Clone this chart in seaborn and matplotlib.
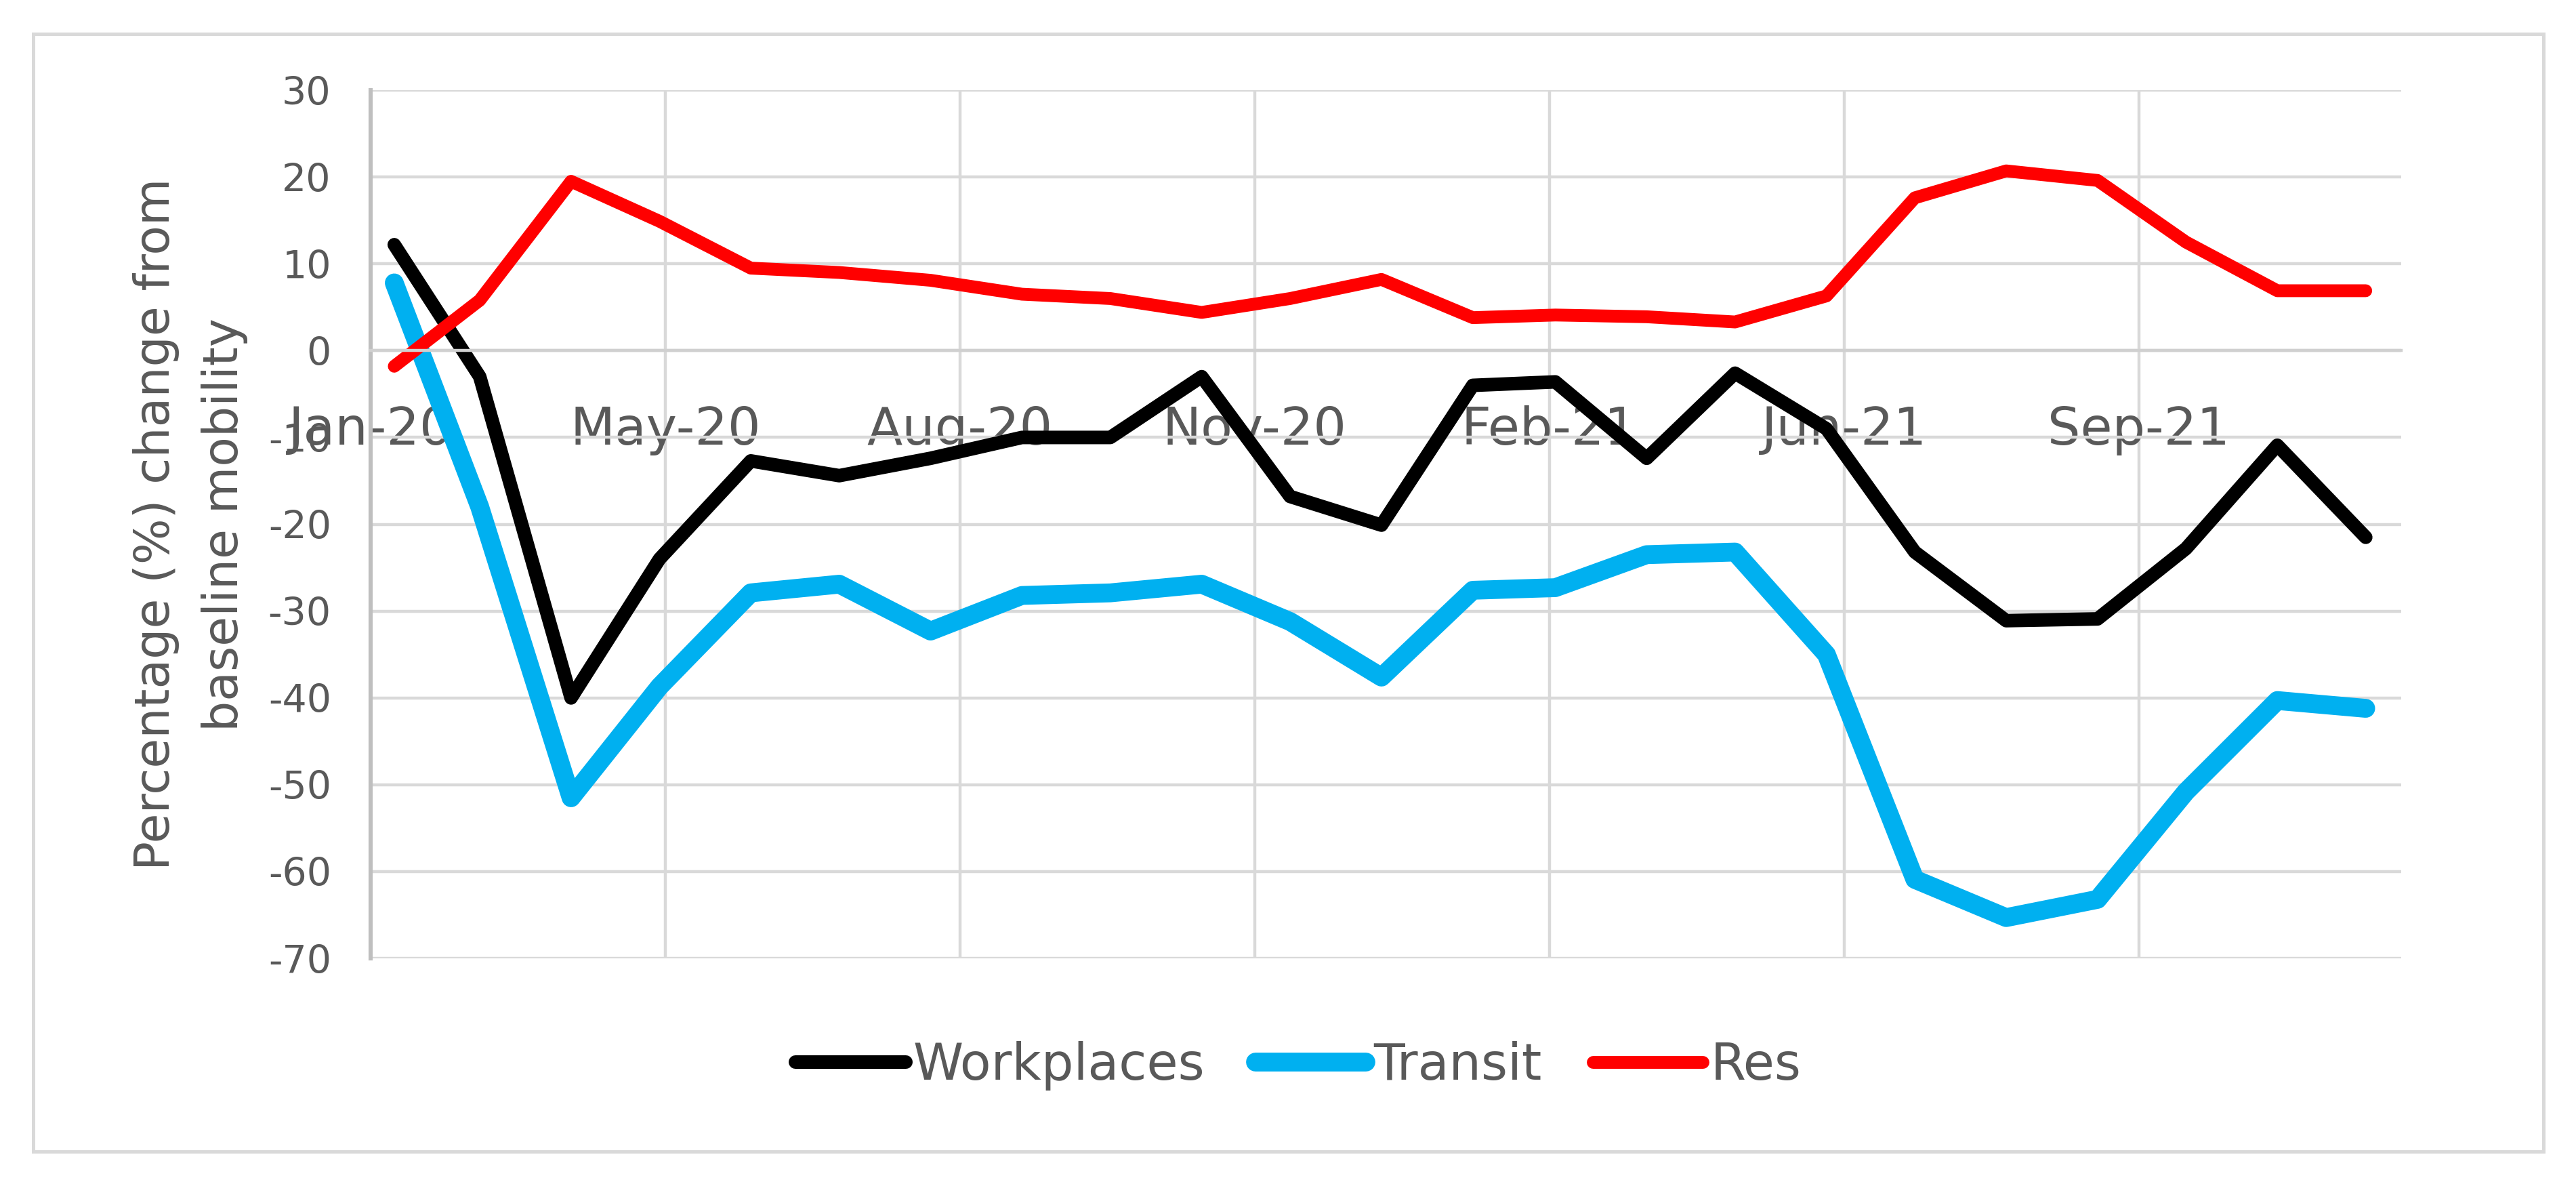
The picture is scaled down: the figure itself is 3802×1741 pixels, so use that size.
import pandas as pd
import numpy as np
import matplotlib
matplotlib.use("Agg")
import matplotlib.pyplot as plt
import matplotlib.dates as mdates
from matplotlib.patches import Rectangle
import seaborn as sns

# monthly points, Feb-2020 .. Dec-2021
months = pd.date_range("2020-02-01", periods=23, freq="MS")
workplaces = [12.2, -3.0, -40.0, -24.0, -12.7, -14.4, -12.4, -10.0, -10.0, -3.0, -16.8, -20.1,
              -4.0, -3.6, -12.4, -2.6, -9.0, -23.2, -31.1, -30.9, -22.8, -10.9, -21.5]
transit = [7.8, -18.0, -51.5, -38.7, -27.9, -26.9, -32.3, -28.2, -27.9, -26.9, -31.2, -37.6,
           -27.6, -27.3, -23.5, -23.2, -35.0, -60.9, -65.3, -63.2, -50.8, -40.3, -41.2]
res = [-1.8, 5.8, 19.5, 14.9, 9.5, 9.0, 8.1, 6.5, 6.0, 4.4, 6.0, 8.2,
       3.8, 4.1, 3.9, 3.3, 6.3, 17.6, 20.7, 19.6, 12.5, 6.9, 6.9]

series_names = ["Workplaces", "Transit", "Res"]
colors = {"Workplaces": "#000000", "Transit": "#00b0f0", "Res": "#ff0000"}
widths = {"Workplaces": 7.2, "Transit": 10.0, "Res": 6.8}

# excel date axis: starts 24-Jan-2020, major unit 100 days
x_start = pd.Timestamp("2020-01-24")
tick_dates = pd.date_range(x_start, periods=7, freq="100D")
y_ticks = list(range(-70, 31, 10))

df = pd.DataFrame({"Month": months, "Workplaces": workplaces, "Transit": transit, "Res": res})
long = df.melt(id_vars="Month", var_name="Series", value_name="Change")

sns.set_style("white")
plt.rcParams["font.family"] = ["DejaVu Sans"]
plt.rcParams["axes.unicode_minus"] = False
grey_txt = "#595959"

fig = plt.figure(figsize=(19.01, 8.705), dpi=200)
ax = fig.add_axes([0.1439, 0.1878, 0.7882, 0.7358])

for name in series_names:
    sns.lineplot(data=long[long.Series == name], x="Month", y="Change",
                 color=colors[name], linewidth=widths[name], label=name, ax=ax,
                 solid_joinstyle="round", solid_capstyle="round")

ax.set_xlim(x_start, x_start + pd.Timedelta(days=689))
ax.set_ylim(-70, 30)
ax.set_xticks(tick_dates)
ax.xaxis.set_major_formatter(mdates.DateFormatter("%b-%y"))
ax.set_yticks(y_ticks)

ax.grid(True, color="#d9d9d9", linewidth=1.6)
ax.set_axisbelow(True)
for s in ["top", "right"]:
    ax.spines[s].set_visible(False)
ax.spines["left"].set_color("#bfbfbf")
ax.spines["left"].set_linewidth(2.2)
ax.spines["bottom"].set_position(("data", 0))
ax.spines["bottom"].set_color("#d0d0d0")
ax.spines["bottom"].set_linewidth(1.6)

ax.tick_params(axis="x", length=0, pad=29, labelsize=27.5, colors=grey_txt)
ax.tick_params(axis="y", length=0, pad=21, labelsize=20.5, colors=grey_txt)

ax.set_xlabel("")
ax.set_ylabel("Percentage (%) change from\nbaseline mobility", fontsize=25.7,
              color=grey_txt, linespacing=1.6)
ax.yaxis.set_label_coords(-0.0604, 0.5)

ax.legend(loc="center", bbox_to_anchor=(0.504, 0.0965), bbox_transform=fig.transFigure,
          ncol=3, frameon=False, fontsize=27, handlelength=2.17, handletextpad=0.15,
          columnspacing=1.0, labelcolor=grey_txt)

fig.add_artist(Rectangle((49 / 3802, 1 - 1699 / 1741), (3754 - 49) / 3802, (1699 - 50) / 1741,
                         transform=fig.transFigure, fill=False, edgecolor="#d9d9d9",
                         linewidth=1.8))

fig.savefig("out.png", dpi=200)
